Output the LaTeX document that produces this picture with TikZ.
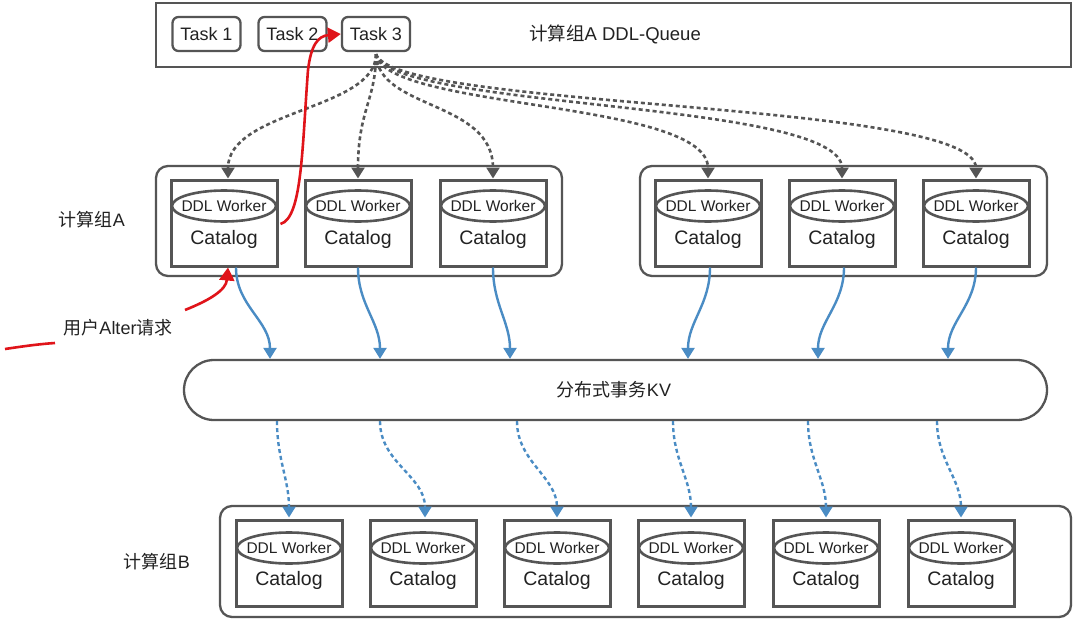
\documentclass[tikz,border=0pt]{standalone}
\usepackage{fontspec}
\setmainfont{Liberation Sans}
\newfontfamily\cjk{Noto Sans CJK SC}
\usetikzlibrary{arrows.meta,shapes.geometric,calc}
\definecolor{gline}{HTML}{555555}
\definecolor{bline}{HTML}{4A8CC4}
\definecolor{rline}{HTML}{E0141A}
\definecolor{txt}{HTML}{222222}
\begin{document}
\begin{tikzpicture}[x=1pt,y=-1pt,
  outer/.style={draw=gline, line width=2.3pt, rounded corners=12pt, inner sep=0pt},
  wbox/.style={draw=gline, line width=3pt, minimum width=106pt, minimum height=86pt, inner sep=0pt},
  worker/.style={ellipse, draw=gline, line width=2.6pt, minimum width=104pt, minimum height=31pt, inner xsep=-9pt, inner ysep=0pt, text=txt, font=\fontsize{15.5}{15.5}\selectfont},
  cat/.style={text=txt, font=\fontsize{19.5}{19.5}\selectfont},
  taskbox/.style={draw=gline, line width=2.3pt, rounded corners=6pt, minimum width=68pt, minimum height=34pt, inner sep=0pt, text=txt, font=\fontsize{18}{18}\selectfont},
  lbl/.style={text=txt, font=\fontsize{18}{18}\selectfont},
  garrow/.style={draw=gline, line width=2.6pt, dash pattern=on 4pt off 3pt, -{Triangle[width=13pt,length=11pt]}},
  barrow/.style={draw=bline, line width=2.4pt, -{Triangle[width=13pt,length=11pt]}},
  bdash/.style={draw=bline, line width=2.4pt, dash pattern=on 4pt off 3pt, -{Triangle[width=13pt,length=11pt]}},
  rarrow/.style={draw=rline, line width=2.6pt, -{Triangle[width=15pt,length=13pt]}},
  rline/.style={draw=rline, line width=2.6pt}
]
\useasboundingbox (0,0) rectangle (1080,621);
\fill[white] (0,0) rectangle (1080,621);

% queue
\node[draw=gline, line width=2.3pt, minimum width=915pt, minimum height=64pt, inner sep=0pt] (queue) at (613.5,35) {};
\node[taskbox] (t1) at (206.5,34) {Task 1};
\node[taskbox] (t2) at (292.5,34) {Task 2};
\node[taskbox] (t3) at (376,34) {Task 3};
\node[lbl, font=\fontsize{18.5}{18.5}\selectfont] (qlabel) at (615,34) {{\cjk 计算组}A DDL-Queue};

% group A
\node[outer, minimum width=406pt, minimum height=110pt] (gAl) at (359,221) {};
\node[outer, minimum width=407pt, minimum height=110pt] (gAr) at (843.5,221) {};
\node[lbl] (labA) at (92,220) {{\cjk 计算组}A};
\foreach \i/\x in {1/224,2/358,3/493,4/708,5/842,6/976}{
  \node[wbox] (wA\i) at (\x,223) {};
  \node[worker] (eA\i) at (\x,206) {DDL Worker};
  \node[cat] (cA\i) at (\x,239) {Catalog};
}

% KV
\node[draw=gline, line width=2.3pt, rounded corners=30pt, minimum width=863pt, minimum height=60pt, inner sep=0pt] (kv) at (615.5,390) {};
\node[lbl] (kvlabel) at (614,390) {{\cjk 分布式事务}KV};

% group B
\node[outer, minimum width=851pt, minimum height=111pt] (gB) at (645.5,561.5) {};
\node[lbl] (labB) at (157,562) {{\cjk 计算组}B};
\foreach \i/\x in {1/289,2/423,3/557,4/691,5/826,6/961}{
  \node[wbox] (wB\i) at (\x,563) {};
  \node[worker] (eB\i) at (\x,548) {DDL Worker};
  \node[cat] (cB\i) at (\x,580) {Catalog};
}

\node[lbl] (labU) at (118,328) {{\cjk 用户}Alter{\cjk 请求}};

% gray dashed arrows from Task 3
\coordinate (ts) at ($(t3.south)+(0,2)$);
\draw[garrow] (ts) .. controls (376,110) and (228,110) .. ($(wA1.north)+(4,0)$);
\draw[garrow] (ts) .. controls (376,100) and (358,110) .. (wA2.north);
\draw[garrow] (ts) .. controls (378,110) and (493,100) .. (wA3.north);
\draw[garrow] (ts) .. controls (385,110) and (708,100) .. (wA4.north);
\draw[garrow] (ts) .. controls (390,110) and (842,100) .. (wA5.north);
\draw[garrow] (ts) .. controls (395,110) and (976,100) .. (wA6.north);

% blue solid arrows to KV
\draw[barrow] ($(wA1.south)+(12,0)$) to[out=-90,in=90] (270,0 |- kv.north);
\draw[barrow] (wA2.south) to[out=-90,in=90] (380,0 |- kv.north);
\draw[barrow] (wA3.south) to[out=-90,in=90] (510,0 |- kv.north);
\draw[barrow] ($(wA4.south)+(2,0)$) to[out=-90,in=90] (688,0 |- kv.north);
\draw[barrow] ($(wA5.south)+(2,0)$) to[out=-90,in=90] (818,0 |- kv.north);
\draw[barrow] (wA6.south) to[out=-90,in=90] (948,0 |- kv.north);

% blue dashed arrows to group B
\draw[bdash] (277,0 |- kv.south) to[out=-90,in=90] ($(wB1.north)+(0,-1)$);
\draw[bdash] (380,0 |- kv.south) to[out=-90,in=90] ($(wB2.north)+(2,-1)$);
\draw[bdash] (517,0 |- kv.south) to[out=-90,in=90] ($(wB3.north)+(0,-1)$);
\draw[bdash] (673,0 |- kv.south) to[out=-90,in=90] ($(wB4.north)+(0,-1)$);
\draw[bdash] (808,0 |- kv.south) to[out=-90,in=90] ($(wB5.north)+(0,-1)$);
\draw[bdash] (937,0 |- kv.south) to[out=-90,in=90] ($(wB6.north)+(0,-1)$);

% red arrows
\draw[rarrow] ($(wA1.east)+(2,1)$) .. controls (302,218) and (302,150) .. (308,70)
   .. controls (311,45) and (318,36) .. (t3.west);
\coordinate (r1) at (185,310);
\draw[rarrow] (r1) .. controls (210,300) and (226,290) .. ($(wA1.south)+(4,0)$);
\coordinate (r2a) at (5,349);
\coordinate (r2b) at (55,343);
\draw[rline] (r2a) .. controls (25,346) and (40,344) .. (r2b);
\end{tikzpicture}
\end{document}
